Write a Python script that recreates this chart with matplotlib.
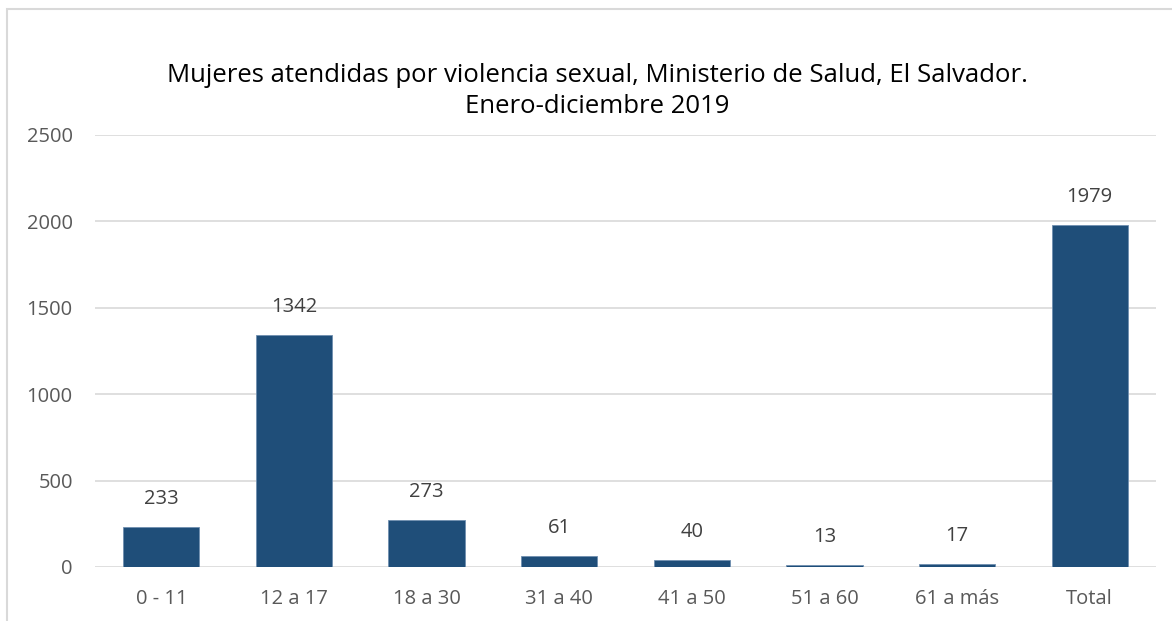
import matplotlib.pyplot as plt
from matplotlib.patches import Rectangle

# Datos
categorias = ['0 - 11', '12 a 17', '18 a 30', '31 a 40', '41 a 50', '51 a 60', '61 a más', 'Total']
valores = [233, 1342, 273, 61, 40, 13, 17, 1979]

plt.rcParams['font.family'] = ['Open Sans', 'DejaVu Sans']

fig = plt.figure(figsize=(11.72, 6.21), dpi=100)
ax = fig.add_axes([95 / 1172, 1 - 567 / 621, (1156 - 95) / 1172, (567 - 135) / 621])

# marco exterior del gráfico (recortado a la derecha y abajo)
fig.patches.append(Rectangle((7 / 1172, -0.05), 1.2, 1 - 9 / 621 + 0.05,
                             transform=fig.transFigure, fill=False,
                             edgecolor='#d9d9d9', linewidth=1.5))

x = range(len(categorias))
bars = ax.bar(x, valores, width=0.575, color='#1f4e79', edgecolor='#6f8fb0', linewidth=0.6, zorder=3)

for b, v in zip(bars, valores):
    ax.annotate(f'{v}', (b.get_x() + b.get_width() / 2, v), xytext=(0, 13),
                textcoords='offset points', ha='center', va='bottom',
                fontsize=14.5, color='#404040')

ax.set_xlim(-0.5, len(categorias) - 0.5)
ax.set_ylim(0, 2500)
ax.set_yticks(range(0, 2501, 500))
ax.yaxis.grid(True, color='#d9d9d9', linewidth=1.2, zorder=0)
ax.set_axisbelow(True)
for s in ax.spines.values():
    s.set_visible(False)
ax.set_xticks(list(x))
ax.set_xticklabels(categorias)
ax.tick_params(axis='both', length=0, labelsize=14.5, labelcolor='#595959')
ax.tick_params(axis='x', pad=16)
ax.tick_params(axis='y', pad=16)

fig.text(597 / 1172, 1 - 91 / 621, 'Mujeres atendidas por violencia sexual, Ministerio de Salud, El Salvador.\nEnero-diciembre 2019',
         ha='center', va='center', fontsize=18.5, color='#000000', linespacing=1.3)

fig.savefig('out.png', dpi=100)
